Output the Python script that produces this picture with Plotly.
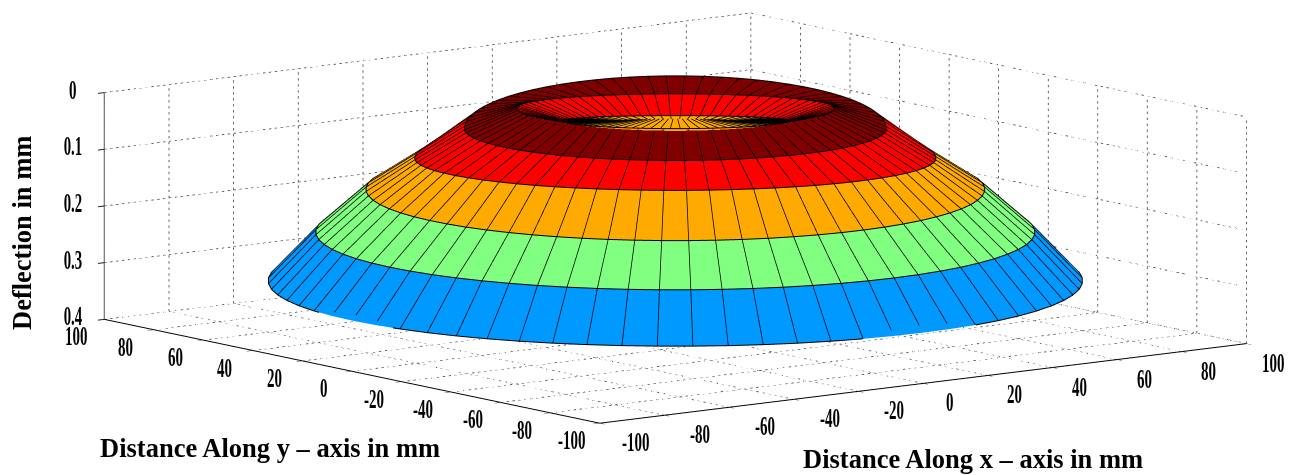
import numpy as np
import plotly.graph_objects as go

# ---- data ----
x_ticks = [-100, -80, -60, -40, -20, 0, 20, 40, 60, 80, 100]
y_ticks = [-100, -80, -60, -40, -20, 0, 20, 40, 60, 80, 100]
z_ticks = [0, 0.1, 0.2, 0.3, 0.4]
z_labels = ["0", "0.1", "0.2", "0.3", "0.4"]
ring_radius = [100, 88.3, 76, 64, 51.8, 39, 28, 13, 0]
ring_deflection = [0.3105, 0.2246, 0.149, 0.0947, 0.0421, 0.0053, 0.028, 0.028, 0.028]
ring_tilt_front = [0, 0, 0.003, -0.0175, -0.0035, -0.0081, -0.0182, -0.0182, 0]
ring_tilt_back = [0, 0, 0, 0, 0.0333, -0.0204, -0.0235, -0.0235, 0]
band_colors = ["#0099ff", "#80ff80", "#ffaa00", "#ff0000", "#800000", "#ff0000", "#ffaa00", "#ffaa00"]
outlined_rings = 7   # the outermost seven rings carry a drawn outline
radial_rings = 8     # spokes run through the outermost eight rings
n_cells = 72

EYE_DIR = np.array([-0.600, -0.783, 0.1606])
EYE_DIST = 10.0
BOX = 3.43
CENTER = np.array([-0.0314, 0.0193, -0.0235]) * BOX
ASPECT = dict(x=BOX, y=BOX, z=0.282 * BOX)

front = EYE_DIR[:2] / np.linalg.norm(EYE_DIR[:2])
theta = np.arange(n_cells) * 2 * np.pi / n_cells
rings = []
for r, d, tf, tb in zip(ring_radius, ring_deflection, ring_tilt_front, ring_tilt_back):
    cx, sy = np.cos(theta), np.sin(theta)
    u = cx * front[0] + sy * front[1]
    rings.append(np.column_stack([r * cx, r * sy, d + np.where(u > 0, tf, tb) * u]))

verts = np.vstack(rings)
I, J, K, FC = [], [], [], []
for b, col in enumerate(band_colors):
    for c in range(n_cells):
        a0 = b * n_cells + c
        a1 = b * n_cells + (c + 1) % n_cells
        b0 = (b + 1) * n_cells + c
        b1 = (b + 1) * n_cells + (c + 1) % n_cells
        I += [a0, a0]
        J += [a1, b1]
        K += [b1, b0]
        FC += [col, col]

surface = go.Mesh3d(
    x=verts[:, 0], y=verts[:, 1], z=verts[:, 2], i=I, j=J, k=K, facecolor=FC,
    flatshading=True, hoverinfo="skip",
    lighting=dict(ambient=1, diffuse=0, specular=0, roughness=1, fresnel=0),
)

# lift of the mesh lines toward the viewer; no shift on screen
lift = np.array([EYE_DIR[0] * 2.0, EYE_DIR[1] * 2.0, -EYE_DIR[2] * 0.0142])
lx, ly, lz = [], [], []
for ring in rings[:outlined_rings]:
    p = np.vstack([ring, ring[:1]]) + lift
    lx += list(p[:, 0]) + [None]
    ly += list(p[:, 1]) + [None]
    lz += list(p[:, 2]) + [None]
ring_lines = go.Scatter3d(x=lx, y=ly, z=lz, mode="lines", line=dict(color="#000000", width=2),
                          hoverinfo="skip", showlegend=False)
sx, sy_, sz = [], [], []
for c in range(n_cells):
    p = np.array([ring[c] for ring in rings[:radial_rings]]) + lift
    sx += list(p[:, 0]) + [None]
    sy_ += list(p[:, 1]) + [None]
    sz += list(p[:, 2]) + [None]
spokes = go.Scatter3d(x=sx, y=sy_, z=sz, mode="lines", line=dict(color="#000000", width=1.5),
                      hoverinfo="skip", showlegend=False)

# dotted grid on the floor and two back walls, drawn as runs of short dashes
gx, gy, gz = [], [], []
def seg(p, q, n):
    p, q = np.array(p, float), np.array(q, float)
    for k in range(n):
        a = p + (q - p) * k / n
        b = p + (q - p) * (k + 0.4) / n
        gx.extend([a[0], b[0], None])
        gy.extend([a[1], b[1], None])
        gz.extend([a[2], b[2], None])
xmin, xmax, ymin, ymax = x_ticks[0], x_ticks[-1], y_ticks[0], y_ticks[-1]
ztop, zbot = z_ticks[0], z_ticks[-1]
for v in x_ticks:
    seg((v, ymin, zbot), (v, ymax, zbot), 85)
    seg((v, ymax, zbot), (v, ymax, ztop), 38)
for v in y_ticks:
    seg((xmin, v, zbot), (xmax, v, zbot), 110)
    seg((xmax, v, zbot), (xmax, v, ztop), 38)
for v in z_ticks:
    seg((xmin, ymax, v), (xmax, ymax, v), 110)
    seg((xmax, ymax, v), (xmax, ymin, v), 85)
grid = go.Scatter3d(x=gx, y=gy, z=gz, mode="lines", line=dict(color="#333333", width=1.5),
                    hoverinfo="skip", showlegend=False)

FONT = "Liberation Serif"
tickfont = dict(family=FONT, size=27, color="#000000", weight="bold")
titlefont = dict(family=FONT, size=26.5, color="#000000")
def axis(vals, rng, ticklen, linecolor):
    return dict(range=rng, tickvals=vals, title=dict(text=""), showgrid=False,
                zeroline=False, showbackground=False, showline=True, linecolor=linecolor, linewidth=2,
                ticks="outside", ticklen=ticklen, tickcolor="#222222", tickwidth=2, showticklabels=False,
                showspikes=False)

def label(x, y, z, text, dx, dy):
    return dict(x=x, y=y, z=z, text=text, showarrow=False, xshift=dx, yshift=-dy,
                xanchor="center", yanchor="middle", font=tickfont)

tick_labels = []
for v in x_ticks:
    tick_labels.append(label(v, ymin, zbot, str(v), 36 if v < 0 else 27, 19))
for v in y_ticks:
    tick_labels.append(label(xmin, v, zbot, str(v), -28, 17))
for v, t in zip(z_ticks, z_labels):
    tick_labels.append(label(xmin, ymax, v, t, -31, -3))

eye = CENTER + EYE_DIR * EYE_DIST
fig = go.Figure([grid, surface, ring_lines, spokes])
W, H = 1291, 475
fig.update_layout(
    width=W, height=H, margin=dict(l=0, r=0, t=0, b=0),
    paper_bgcolor="#ffffff", showlegend=False,
    scene=dict(
        domain=dict(x=[0, 1], y=[0, 1]),
        bgcolor="#ffffff",
        aspectmode="manual", aspectratio=ASPECT,
        camera=dict(eye=dict(x=eye[0], y=eye[1], z=eye[2]), up=dict(x=0, y=0, z=1),
                    center=dict(x=CENTER[0], y=CENTER[1], z=CENTER[2]),
                    projection=dict(type="orthographic")),
        xaxis=axis(x_ticks, [xmin, xmax], 8, "#000000"),
        yaxis=axis(y_ticks, [ymin, ymax], 8, "#000000"),
        zaxis=axis(z_ticks, [zbot, ztop], 14, "#555555"),
        annotations=tick_labels,
    ),
    annotations=[
        dict(text="<b>Deflection in mm</b>", x=22 / W, y=1 - 233 / H, textangle=-90, showarrow=False,
             xref="paper", yref="paper", xanchor="center", yanchor="middle", font=titlefont),
        dict(text="<b>Distance Along y – axis in mm</b>", x=270 / W, y=1 - 448 / H, showarrow=False,
             xref="paper", yref="paper", xanchor="center", yanchor="middle", font=titlefont),
        dict(text="<b>Distance Along x – axis in mm</b>", x=973 / W, y=1 - 459 / H, showarrow=False,
             xref="paper", yref="paper", xanchor="center", yanchor="middle", font=titlefont),
    ],
)

# the tick digits of the reference are tall and narrow: squeeze the glyphs of numeric labels
SQUEEZE = """
document.body.style.margin='0';
(function(){
  function squeeze(){
    document.querySelectorAll('.annotation-text').forEach(function(t){
      var s=t.textContent;
      if(/^[-.0-9]+$/.test(s)){
        var w=0;
        for(var i=0;i<s.length;i++){ w+= s[i]==='-'?5: s[i]==='.'?3.5:7.5; }
        t.setAttribute('textLength',w);
        t.setAttribute('lengthAdjust','spacingAndGlyphs');
      }
    });
  }
  var n=0; var h=setInterval(function(){squeeze(); if(++n>100) clearInterval(h);},100);
})();
"""
fig.write_html("out.html", config=dict(displayModeBar=False), post_script=SQUEEZE)
